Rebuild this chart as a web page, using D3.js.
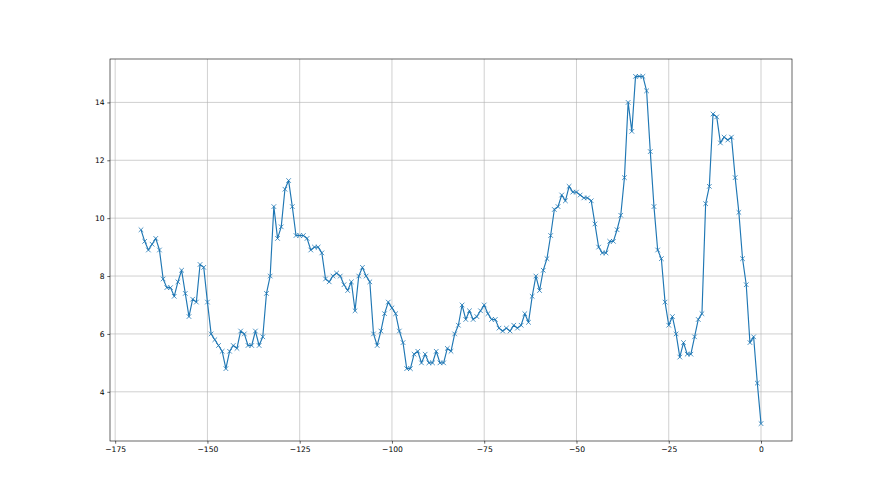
<!DOCTYPE html>
<html>
<head>
<meta charset="utf-8">
<script src="https://cdn.jsdelivr.net/npm/d3@7"></script>
<style>
  html, body { margin: 0; padding: 0; background: #fff; }
  svg text { font-family: "DejaVu Sans", sans-serif; }
</style>
</head>
<body>
<div id="chart"></div>
<script>

// hours back from now (-168 .. 0)
var hours = d3.range(-168, 1);

// values, one per hour
var values = [
  9.6, 9.2, 8.9, 9.1, 9.3, 8.9, 7.9, 7.6, 7.6, 7.3,   // -168 .. -159
  7.8, 8.2, 7.4, 6.6, 7.2, 7.1, 8.4, 8.3, 7.1, 6.0,   // -158 .. -149
  5.8, 5.6, 5.4, 4.8, 5.4, 5.6, 5.5, 6.1, 6.0, 5.6,   // -148 .. -139
  5.6, 6.1, 5.6, 5.9, 7.4, 8.0, 10.4, 9.3, 9.7, 11.0, // -138 .. -129
  11.3, 10.4, 9.4, 9.4, 9.4, 9.3, 8.9, 9.0, 9.0, 8.8, // -128 .. -119
  7.9, 7.8, 8.0, 8.1, 8.0, 7.7, 7.5, 7.8, 6.8, 8.0,   // -118 .. -109
  8.3, 8.0, 7.8, 6.0, 5.6, 6.1, 6.7, 7.1, 6.9, 6.7,   // -108 .. -99
  6.1, 5.7, 4.8, 4.8, 5.3, 5.4, 5.0, 5.3, 5.0, 5.0,   // -98 .. -89
  5.4, 5.0, 5.0, 5.5, 5.4, 6.0, 6.3, 7.0, 6.5, 6.8,   // -88 .. -79
  6.5, 6.6, 6.8, 7.0, 6.7, 6.5, 6.5, 6.2, 6.1, 6.2,   // -78 .. -69
  6.1, 6.3, 6.2, 6.3, 6.7, 6.4, 7.3, 8.0, 7.5, 8.2,   // -68 .. -59
  8.6, 9.4, 10.3, 10.4, 10.8, 10.6, 11.1, 10.9, 10.9, 10.8, // -58 .. -49
  10.7, 10.7, 10.6, 9.8, 9.0, 8.8, 8.8, 9.2, 9.2, 9.6,      // -48 .. -39
  10.1, 11.4, 14.0, 13.0, 14.9, 14.9, 14.9, 14.4, 12.3, 10.4, // -38 .. -29
  8.9, 8.6, 7.1, 6.3, 6.6, 6.0, 5.2, 5.7, 5.3, 5.3,   // -28 .. -19
  5.9, 6.5, 6.7, 10.5, 11.1, 13.6, 13.5, 12.6, 12.8, 12.7, // -18 .. -9
  12.8, 11.4, 10.2, 8.6, 7.7, 5.7, 5.9, 4.3, 2.9      // -8 .. 0
];

var xTicks = [-175, -150, -125, -100, -75, -50, -25, 0];
var yTicks = [4, 6, 8, 10, 12, 14];

var points = hours.map(function (h, i) { return { hour: h, value: values[i] }; });

var width = 880, height = 495;
var plotLeft = 110, plotRight = 792, plotTop = 59, plotBottom = 441;

// matplotlib style 5% margins
var xExt = d3.extent(hours), yExt = d3.extent(values);
var xPad = (xExt[1] - xExt[0]) * 0.05, yPad = (yExt[1] - yExt[0]) * 0.05;

var xScale = d3.scaleLinear().domain([xExt[0] - xPad, xExt[1] + xPad]).range([plotLeft, plotRight]);
var yScale = d3.scaleLinear().domain([yExt[0] - yPad, yExt[1] + yPad]).range([plotBottom, plotTop]);

var svg = d3.select("#chart").append("svg")
    .attr("width", width)
    .attr("height", height);

var fmt = function (d) { return d < 0 ? "\u2212" + Math.abs(d) : String(d); };

// grid
svg.append("g").selectAll("line").data(xTicks).enter().append("line")
    .attr("x1", d => xScale(d)).attr("x2", d => xScale(d))
    .attr("y1", plotTop).attr("y2", plotBottom)
    .attr("stroke", "#b0b0b0").attr("stroke-width", 0.6);
svg.append("g").selectAll("line").data(yTicks).enter().append("line")
    .attr("x1", plotLeft).attr("x2", plotRight)
    .attr("y1", d => yScale(d)).attr("y2", d => yScale(d))
    .attr("stroke", "#b0b0b0").attr("stroke-width", 0.6);

// axes
var xAxis = svg.append("g").attr("transform", "translate(0," + plotBottom + ")")
    .call(d3.axisBottom(xScale).tickValues(xTicks).tickFormat(fmt).tickSize(2.7).tickPadding(2.7));
var yAxis = svg.append("g").attr("transform", "translate(" + plotLeft + ",0)")
    .call(d3.axisLeft(yScale).tickValues(yTicks).tickFormat(fmt).tickSize(2.7).tickPadding(2.7));

[xAxis, yAxis].forEach(function (g) {
    g.select(".domain").remove();
    g.selectAll(".tick line").attr("stroke", "#000").attr("stroke-width", 0.6);
    g.selectAll(".tick text").attr("fill", "#000").style("font-size", "7.6px")
        .style("font-family", "'DejaVu Sans', sans-serif");
});

// frame
svg.append("rect")
    .attr("x", plotLeft).attr("y", plotTop)
    .attr("width", plotRight - plotLeft).attr("height", plotBottom - plotTop)
    .attr("fill", "none").attr("stroke", "#000").attr("stroke-width", 0.6);

// line
var line = d3.line()
    .x(d => xScale(d.hour))
    .y(d => yScale(d.value));

svg.append("path")
    .attr("d", line(points))
    .attr("fill", "none")
    .attr("stroke", "#1f77b4")
    .attr("stroke-width", 1.15)
    .attr("stroke-linejoin", "round");

// x markers
var m = 2.3;
svg.append("g").selectAll("path").data(points).enter().append("path")
    .attr("transform", d => "translate(" + xScale(d.hour) + "," + yScale(d.value) + ")")
    .attr("d", "M" + (-m) + "," + (-m) + "L" + m + "," + m + "M" + (-m) + "," + m + "L" + m + "," + (-m))
    .attr("fill", "none")
    .attr("stroke", "#1f77b4")
    .attr("stroke-width", 0.8);

</script>
</body>
</html>
